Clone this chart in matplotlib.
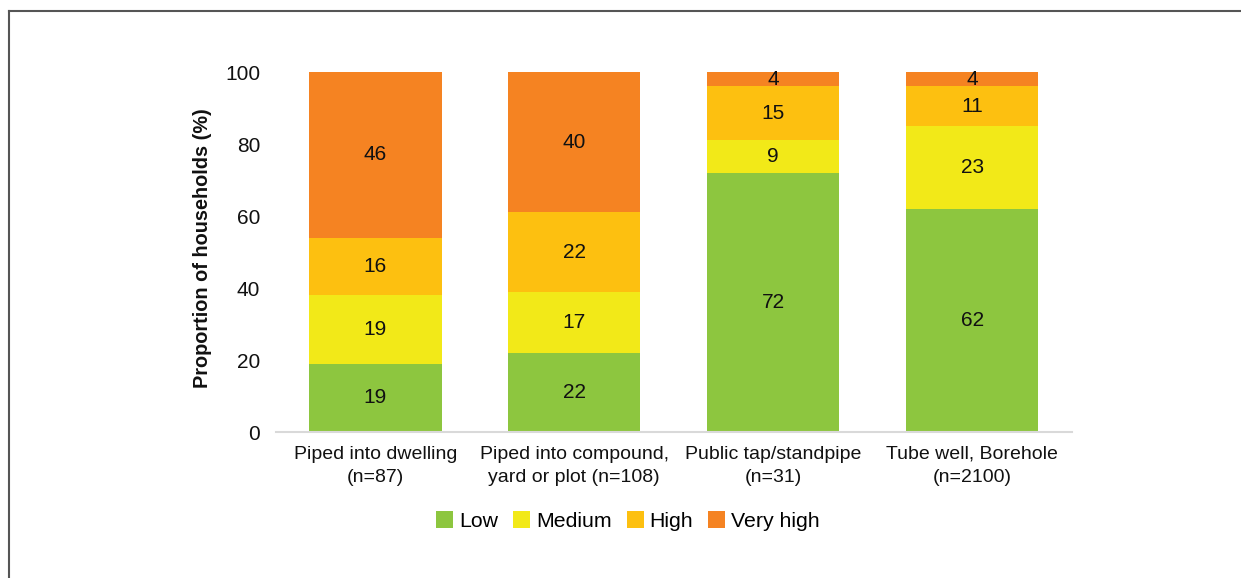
import matplotlib
matplotlib.use("Agg")
import matplotlib.pyplot as plt
from matplotlib.lines import Line2D
from matplotlib.patches import Patch

plt.rcParams['font.family'] = ['Liberation Sans', 'DejaVu Sans']

categories = ["Piped into dwelling\n(n=87)",
              "Piped into compound,\nyard or plot (n=108)",
              "Public tap/standpipe\n(n=31)",
              "Tube well, Borehole\n(n=2100)"]
series_names = ["Low", "Medium", "High", "Very high"]
low = [19, 22, 72, 62]
medium = [19, 17, 9, 23]
high = [16, 22, 15, 11]
very_high = [46, 40, 4, 4]
yticks = [0, 20, 40, 60, 80, 100]

colors = ["#8DC63F", "#F2E918", "#FDC010", "#F58322"]
series = [low, medium, high, very_high]

fig = plt.figure(figsize=(12.41, 5.78), dpi=100)
ax = fig.add_axes([276/1241, 1-432/578, (1071.5-276)/1241, (432-72)/578])

x = list(range(len(categories)))
bottom = [0]*len(categories)
for name, vals, c in zip(series_names, series, colors):
    ax.bar(x, vals, width=0.665, bottom=bottom, color=c, label=name, zorder=2)
    for xi, b, v in zip(x, bottom, vals):
        top = min(b + v, 100)
        ax.text(xi, (b + top)/2, str(v), ha='center', va='center', fontsize=15, color='#111111')
    bottom = [b + v for b, v in zip(bottom, vals)]

ax.set_xlim(-0.5, 3.5)
ax.set_ylim(0, 100)
ax.set_yticks(yticks)
ax.set_xticks(x)
ax.set_xticklabels(categories, fontsize=14, linespacing=1.45)
ax.tick_params(axis='both', length=0, colors='#111111')
ax.tick_params(axis='y', labelsize=15, pad=11.5)
ax.tick_params(axis='x', labelsize=14, pad=10)
for s in ['left', 'right', 'top']:
    ax.spines[s].set_visible(False)
ax.spines['bottom'].set_color('#D9D9D9')
ax.spines['bottom'].set_linewidth(1.5)

fig.text(203/1241, 1-248/578, "Proportion of households (%)", rotation=90,
         ha='center', va='center', fontsize=14.3, fontweight='bold', color='#111111')

handles = [Patch(facecolor=c, edgecolor='none') for c in colors]
fig.legend(handles, series_names, loc='center', bbox_to_anchor=(628/1241, 1-521/578),
           ncol=4, frameon=False, fontsize=15.3, handlelength=0.8, handleheight=0.8,
           handletextpad=0.28, columnspacing=0.7)

# frame border lines
fig.add_artist(Line2D([9/1241, 9/1241], [0, 1-11/578], transform=fig.transFigure,
                      color='#555555', linewidth=1.5))
fig.add_artist(Line2D([9/1241, 1], [1-11/578, 1-11/578], transform=fig.transFigure,
                      color='#555555', linewidth=1.5))

fig.savefig("out.png", dpi=100)
